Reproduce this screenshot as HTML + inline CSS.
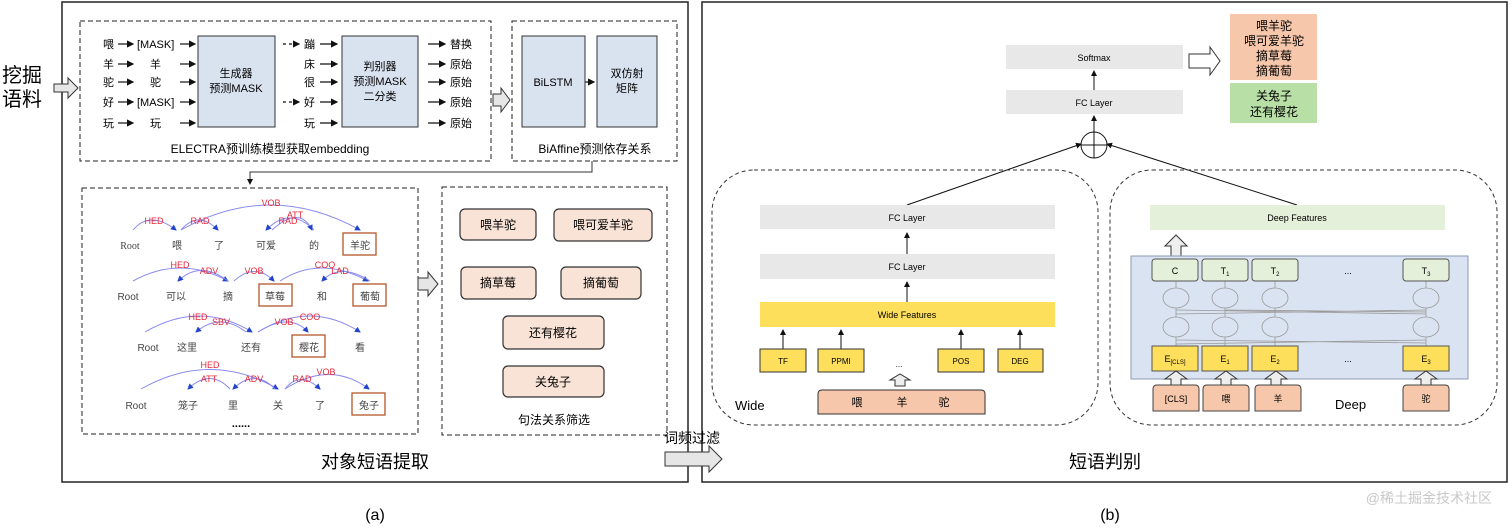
<!DOCTYPE html>
<html><head><meta charset="utf-8"><style>
html,body{margin:0;padding:0;background:#fff;width:1512px;height:528px;overflow:hidden}
svg text{font-family:"Liberation Sans","Noto Sans CJK SC",sans-serif}
</style></head><body>
<svg width="1512" height="528" viewBox="0 0 1512 528" xmlns="http://www.w3.org/2000/svg">
<defs>
<marker id="a" markerWidth="6" markerHeight="6" refX="5" refY="3" orient="auto"><path d="M0,0L6,3L0,6z" fill="#111"/></marker>
<marker id="b" markerWidth="6" markerHeight="6" refX="5" refY="3" orient="auto"><path d="M0,0L6,3L0,6z" fill="#2244cc"/></marker>
</defs>
<!-- frames -->
<rect x="62" y="2" width="626" height="480" fill="none" stroke="#222" stroke-width="1.5"/>
<rect x="702" y="2" width="805" height="480" fill="none" stroke="#222" stroke-width="1.5"/>
<text x="2" y="82" font-size="20">挖掘</text><text x="2" y="106" font-size="20">语料</text>
<path d="M54,84H68V78L78,88L68,98V92H54Z" fill="#e6e6e6" stroke="#333"/>
<!-- ELECTRA -->
<rect x="80" y="21" width="411" height="140" fill="none" stroke="#222" stroke-dasharray="5,3"/>
<rect x="512" y="21" width="165" height="140" fill="none" stroke="#222" stroke-dasharray="5,3"/>
<rect x="198" y="36" width="77" height="91" fill="#d9e2ef" stroke="#333"/>
<rect x="342" y="36" width="76" height="91" fill="#d9e2ef" stroke="#333"/>
<text x="236" y="77" font-size="11" text-anchor="middle">生成器</text>
<text x="236" y="92" font-size="11" text-anchor="middle">预测MASK</text>
<text x="380" y="70" font-size="11" text-anchor="middle">判别器</text>
<text x="380" y="85" font-size="11" text-anchor="middle">预测MASK</text>
<text x="380" y="100" font-size="11" text-anchor="middle">二分类</text>
<g font-size="11">
<text x="103" y="48">喂</text><text x="103" y="68">羊</text><text x="103" y="86">驼</text><text x="103" y="106">好</text><text x="103" y="127">玩</text>
<text x="137" y="48">[MASK]</text><text x="150" y="68">羊</text><text x="150" y="86">驼</text><text x="137" y="106">[MASK]</text><text x="150" y="127">玩</text>
<text x="304" y="48">蹦</text><text x="304" y="68">床</text><text x="304" y="86">很</text><text x="304" y="106">好</text><text x="304" y="127">玩</text>
<text x="450" y="48">替换</text><text x="450" y="68">原始</text><text x="450" y="86">原始</text><text x="450" y="106">原始</text><text x="450" y="127">原始</text>
</g>
<g stroke="#111" stroke-width="1.2" marker-end="url(#a)">
<path d="M118,44H133"/><path d="M118,64H133"/><path d="M118,82H133"/><path d="M118,102H133"/><path d="M118,123H133"/>
<path d="M180,44H195"/><path d="M180,64H195"/><path d="M180,82H195"/><path d="M180,102H195"/><path d="M180,123H195"/>
<path d="M283,44H299" stroke-dasharray="3,3"/><path d="M283,102H299" stroke-dasharray="3,3"/>
<path d="M320,44H337"/><path d="M320,64H337"/><path d="M320,82H337"/><path d="M320,102H337"/><path d="M320,123H337"/>
<path d="M428,44H445"/><path d="M428,64H445"/><path d="M428,82H445"/><path d="M428,102H445"/><path d="M428,123H445"/>
<path d="M585,82H594"/>
</g>
<text x="270" y="153" font-size="12" text-anchor="middle">ELECTRA预训练模型获取embedding</text>
<path d="M493,94H501V88L510,100L501,112V106H493Z" fill="#e6e6e6" stroke="#333"/>
<rect x="522" y="36" width="63" height="91" fill="#d9e2ef" stroke="#333"/>
<rect x="597" y="36" width="60" height="91" fill="#d9e2ef" stroke="#333"/>
<text x="553" y="86" font-size="11" text-anchor="middle">BiLSTM</text>
<text x="627" y="77" font-size="11" text-anchor="middle">双仿射</text>
<text x="627" y="92" font-size="11" text-anchor="middle">矩阵</text>
<text x="595" y="153" font-size="12" text-anchor="middle">BiAffine预测依存关系</text>
<path d="M592,161V172H250V184" fill="none" stroke="#333" marker-end="url(#a)"/>
<!-- dependency -->
<rect x="82" y="188" width="336" height="246" fill="none" stroke="#222" stroke-dasharray="5,3"/>
<g font-family="Liberation Serif,Noto Serif CJK SC,serif" font-size="10" fill="#444" text-anchor="middle">
<text x="130" y="249" style="font-family:'Liberation Serif','Noto Serif CJK SC',serif">Root</text><text x="177" y="249">喂</text><text x="219" y="249">了</text><text x="266" y="249">可爱</text><text x="314" y="249">的</text><text x="360" y="249">羊驼</text>
<text x="128" y="300">Root</text><text x="176" y="300">可以</text><text x="228" y="300">摘</text><text x="275" y="300">草莓</text><text x="322" y="300">和</text><text x="370" y="300">葡萄</text>
<text x="148" y="351">Root</text><text x="187" y="351">这里</text><text x="251" y="351">还有</text><text x="309" y="351">樱花</text><text x="360" y="351">看</text>
<text x="136" y="409">Root</text><text x="188" y="409">笼子</text><text x="233" y="409">里</text><text x="278" y="409">关</text><text x="320" y="409">了</text><text x="369" y="409">兔子</text>
</g>
<g fill="none" stroke="#b5562a" stroke-width="1.3">
<rect x="343" y="233" width="33" height="22"/><rect x="259" y="284" width="33" height="22"/><rect x="353" y="284" width="33" height="22"/>
<rect x="292" y="335" width="33" height="22"/><rect x="352" y="393" width="33" height="22"/>
</g>
<g fill="none" stroke="#8a8aee" stroke-width="1" marker-end="url(#b)">
<path d="M133,230Q150,210 176,230"/><path d="M181,230Q198,210 218,230"/><path d="M181,230Q270,180 360,230"/><path d="M314,230Q290,206 266,230"/><path d="M272,230Q300,205 312,230"/>
<path d="M133,281Q180,255 228,281"/><path d="M228,281Q200,260 178,281"/><path d="M234,281Q255,262 274,281"/><path d="M280,281Q320,255 368,281"/><path d="M370,281Q340,262 322,281"/>
<path d="M145,332Q200,300 252,332"/><path d="M246,332Q220,312 196,332"/><path d="M258,332Q290,312 308,332"/><path d="M258,332Q310,300 360,332"/>
<path d="M141,389Q210,350 278,389"/><path d="M230,389Q210,368 188,389"/><path d="M275,389Q255,368 233,389"/><path d="M285,389Q300,370 320,389"/><path d="M285,389Q330,360 369,389"/>
</g>
<g font-size="9" fill="#e8283a" text-anchor="middle">
<text x="154" y="224">HED</text><text x="200" y="224">RAD</text><text x="271" y="206">VOB</text><text x="295" y="218">ATT</text><text x="288" y="224">RAD</text>
<text x="180" y="268">HED</text><text x="209" y="274">ADV</text><text x="254" y="274">VOB</text><text x="325" y="268">COO</text><text x="340" y="274">LAD</text>
<text x="198" y="320">HED</text><text x="221" y="325">SBV</text><text x="284" y="325">VOB</text><text x="310" y="320">COO</text>
<text x="210" y="368">HED</text><text x="209" y="382">ATT</text><text x="254" y="382">ADV</text><text x="302" y="382">RAD</text><text x="326" y="375">VOB</text>
</g>
<text x="241" y="427" font-size="11" text-anchor="middle" font-weight="bold">......</text>
<path d="M418,278H428V272L438,284L428,296V290H418Z" fill="#e6e6e6" stroke="#333"/>
<!-- filter -->
<rect x="442" y="187" width="225" height="248" fill="none" stroke="#222" stroke-dasharray="5,3"/>
<g fill="#f8e3d6" stroke="#333" stroke-width="1.2">
<rect x="460" y="209" width="76" height="31" rx="5"/><rect x="554" y="209" width="98" height="32" rx="5"/>
<rect x="461" y="267" width="75" height="32" rx="5"/><rect x="561" y="267" width="80" height="32" rx="5"/>
<rect x="503" y="316" width="101" height="33" rx="5"/><rect x="503" y="366" width="101" height="31" rx="5"/>
</g>
<g font-size="12" text-anchor="middle">
<text x="498" y="229">喂羊驼</text><text x="603" y="229">喂可爱羊驼</text><text x="498" y="287">摘草莓</text><text x="601" y="287">摘葡萄</text>
<text x="553" y="337">还有樱花</text><text x="553" y="386">关兔子</text>
<text x="554" y="424">句法关系筛选</text>
</g>
<text x="375" y="468" font-size="18" text-anchor="middle">对象短语提取</text>
<text x="664" y="443" font-size="14">词频过滤</text>
<path d="M665,452H709V446L722,459L709,472V466H665Z" fill="#e6e6e6" stroke="#333"/>
<!-- right top -->
<rect x="1006" y="45" width="177" height="24" fill="#e8e8e8"/><text x="1094" y="61" font-size="9" text-anchor="middle">Softmax</text>
<rect x="1006" y="90" width="177" height="24" fill="#e8e8e8"/><text x="1094" y="106" font-size="9" text-anchor="middle">FC Layer</text>
<g stroke="#111" stroke-width="1" marker-end="url(#a)"><path d="M1094,90V71"/><path d="M1094,132V116"/>
<path d="M907,205L1081,144"/><path d="M1297,205L1107,144"/>
<path d="M907,254V233"/><path d="M907,302V282"/>
<path d="M783,349V330"/><path d="M841,349V330"/><path d="M961,349V330"/><path d="M1020,349V330"/></g>
<circle cx="1094" cy="145" r="13" fill="#fff" stroke="#111"/><path d="M1081,145H1107M1094,132V158" stroke="#111"/>
<path d="M1189,54H1210V47L1220,61L1210,75V68H1189Z" fill="#fff" stroke="#333"/>
<rect x="1230" y="14" width="87" height="66" fill="#f6c7ab"/>
<rect x="1230" y="83" width="87" height="40" fill="#b8dfa6"/>
<g font-size="12" text-anchor="middle"><text x="1274" y="30">喂羊驼</text><text x="1274" y="45">喂可爱羊驼</text><text x="1274" y="60">摘草莓</text><text x="1274" y="75">摘葡萄</text>
<text x="1274" y="100">关兔子</text><text x="1274" y="116">还有樱花</text></g>
<!-- wide -->
<rect x="712" y="170" width="386" height="255" rx="42" fill="none" stroke="#333" stroke-dasharray="4,3"/>
<rect x="760" y="205" width="295" height="24" fill="#e8e8e8"/><text x="907" y="221" font-size="9" text-anchor="middle">FC Layer</text>
<rect x="760" y="254" width="295" height="25" fill="#e8e8e8"/><text x="907" y="270" font-size="9" text-anchor="middle">FC Layer</text>
<rect x="760" y="302" width="295" height="25" fill="#fddf5c"/><text x="907" y="318" font-size="9" text-anchor="middle">Wide Features</text>
<g fill="#fddf5c" stroke="#333"><rect x="760" y="349" width="46" height="23"/><rect x="818" y="349" width="46" height="23"/><rect x="938" y="349" width="46" height="23"/><rect x="998" y="349" width="45" height="23"/></g>
<g font-size="8" text-anchor="middle"><text x="783" y="364">TF</text><text x="841" y="364">PPMI</text><text x="961" y="364">POS</text><text x="1020" y="364">DEG</text><text x="899" y="367">...</text></g>
<path d="M895,386V380H890L900,374L910,380H905V386Z" fill="#eee" stroke="#333"/>
<path d="M818,414V394Q818,390 822,390H981Q985,390 985,394V414Z" fill="#f6c7ab" stroke="#333"/>
<g font-size="11" text-anchor="middle"><text x="857" y="406">喂</text><text x="902" y="406">羊</text><text x="944" y="406">驼</text></g>
<text x="735" y="410" font-size="13">Wide</text>
<!-- deep -->
<rect x="1110" y="170" width="387" height="255" rx="42" fill="none" stroke="#333" stroke-dasharray="4,3"/>
<rect x="1150" y="205" width="295" height="25" fill="#e4f0da"/><text x="1297" y="221" font-size="9" text-anchor="middle">Deep Features</text>
<path d="M1171,258V246H1165L1176,235L1187,246H1181V258Z" fill="#eee" stroke="#333"/>
<rect x="1131" y="256" width="337" height="123" fill="#dae3f1" stroke="#8b9bb3"/>
<g stroke="#999" stroke-width="0.8" fill="none">
<path d="M1176,281V346M1225,281V346M1275,281V346M1426,281V346"/>
<path d="M1176,310L1426,314M1176,314L1426,310M1225,310L1426,312M1176,340L1426,343M1176,344L1426,340"/>
<ellipse cx="1176" cy="298" rx="13" ry="10" fill="#dae3f1"/><ellipse cx="1225" cy="298" rx="13" ry="10" fill="#dae3f1"/><ellipse cx="1275" cy="298" rx="13" ry="10" fill="#dae3f1"/><ellipse cx="1426" cy="298" rx="13" ry="10" fill="#dae3f1"/>
<ellipse cx="1176" cy="327" rx="13" ry="10" fill="#dae3f1"/><ellipse cx="1225" cy="327" rx="13" ry="10" fill="#dae3f1"/><ellipse cx="1275" cy="327" rx="13" ry="10" fill="#dae3f1"/><ellipse cx="1426" cy="327" rx="13" ry="10" fill="#dae3f1"/>
</g>
<g fill="#e4f0da" stroke="#555"><rect x="1152" y="259" width="46" height="22" rx="3"/><rect x="1202" y="259" width="46" height="22" rx="3"/><rect x="1252" y="259" width="46" height="22" rx="3"/><rect x="1403" y="259" width="46" height="22" rx="3"/></g>
<g fill="#fddf5c" stroke="#555"><rect x="1152" y="346" width="46" height="25"/><rect x="1202" y="346" width="46" height="25"/><rect x="1252" y="346" width="46" height="25"/><rect x="1403" y="346" width="46" height="25"/></g>
<g font-size="9" text-anchor="middle"><text x="1175" y="274">C</text><text x="1225" y="274">T<tspan font-size="6" dy="2">1</tspan></text><text x="1275" y="274">T<tspan font-size="6" dy="2">2</tspan></text><text x="1348" y="274">...</text><text x="1426" y="274">T<tspan font-size="6" dy="2">3</tspan></text>
<text x="1175" y="362">E<tspan font-size="6" dy="2">[CLS]</tspan></text><text x="1225" y="362">E<tspan font-size="6" dy="2">1</tspan></text><text x="1275" y="362">E<tspan font-size="6" dy="2">2</tspan></text><text x="1348" y="362">...</text><text x="1426" y="362">E<tspan font-size="6" dy="2">3</tspan></text></g>
<g fill="#eee" stroke="#333"><path d="M1171,385V379H1165L1176,371L1187,379H1181V385Z"/><path d="M1221,385V379H1215L1226,371L1237,379H1231V385Z"/><path d="M1271,385V379H1265L1276,371L1287,379H1281V385Z"/><path d="M1421,385V379H1415L1426,371L1437,379H1431V385Z"/></g>
<g fill="#f6c7ab" stroke="#444"><path d="M1153,411V389Q1153,385 1157,385H1195Q1199,385 1199,389V411Z"/><path d="M1203,411V389Q1203,385 1207,385H1245Q1249,385 1249,389V411Z"/><path d="M1255,411V389Q1255,385 1259,385H1297Q1301,385 1301,389V411Z"/><path d="M1403,411V389Q1403,385 1407,385H1445Q1449,385 1449,389V411Z"/></g>
<g font-size="9" text-anchor="middle"><text x="1176" y="402">[CLS]</text><text x="1226" y="402">喂</text><text x="1278" y="402">羊</text><text x="1426" y="402">驼</text></g>
<text x="1335" y="409" font-size="13">Deep</text>
<text x="1105" y="468" font-size="18" text-anchor="middle">短语判别</text>
<text x="375" y="520" font-size="16" text-anchor="middle">(a)</text>
<text x="1110" y="520" font-size="16" text-anchor="middle">(b)</text>
<text x="1492" y="503" font-size="14" fill="#c8c8c8" text-anchor="end">@稀土掘金技术社区</text>
</svg>
</body></html>
